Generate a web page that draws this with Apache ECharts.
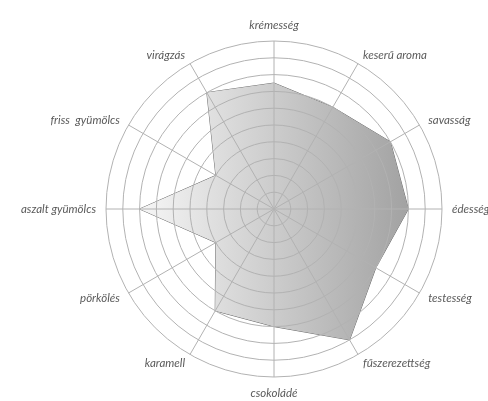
<!DOCTYPE html>
<html>
<head>
<meta charset="utf-8">
<script src="https://cdn.jsdelivr.net/npm/echarts@6/dist/echarts.min.js"></script>
<style>
html,body{margin:0;padding:0;background:#fff;}
#c{width:488px;height:401px;}
</style>
</head>
<body>
<div id="c"></div>
<script>
// Clockwise from the top
const categories = ['krémesség','keserű aroma','savasság','édesség','testesség','fűszerezettség','csokoládé','karamell','pörkölés','aszalt gyümölcs','friss  gyümölcs','virágzás'];
const values = [7.5, 7, 8, 8, 7, 9, 7, 7, 4, 8, 4, 8];
const maxValue = 10;
const ringCount = 10;

// ECharts radar runs counter-clockwise; reorder so it reads clockwise
const order = [0].concat(categories.map((_, i) => i).slice(1).reverse());
const indCats = order.map(i => categories[i]);
const indVals = order.map(i => values[i]);

const CX = 274, CY = 209, R = 168;
const gridColor = '#b2b2b2';

const chart = echarts.init(document.getElementById('c'));
chart.setOption({
  animation: false,
  polar: { center: [CX, CY], radius: R },
  angleAxis: {
    type: 'value', min: 0, max: categories.length, interval: 1,
    startAngle: 90, z: 10,
    axisLine: { show: false }, axisTick: { show: false }, axisLabel: { show: false },
    splitLine: { show: true, lineStyle: { color: gridColor, width: 1 } }
  },
  radiusAxis: {
    type: 'value', min: 0, max: maxValue, interval: maxValue / ringCount, z: 10,
    axisLine: { show: false }, axisTick: { show: false }, axisLabel: { show: false },
    splitLine: { show: true, lineStyle: { color: gridColor, width: 1 } }
  },
  radar: {
    center: [CX, CY],
    radius: R,
    startAngle: 90,
    splitNumber: ringCount,
    shape: 'circle',
    indicator: indCats.map(n => ({ name: n, max: maxValue, min: 0 })),
    axisName: {
      color: '#5a5a5a',
      fontFamily: 'Lato, Roboto, sans-serif',
      fontStyle: 'italic',
      fontSize: 11.5
    },
    nameGap: 10,
    splitLine: { show: false },
    axisLine: { show: false },
    splitArea: { show: false }
  },
  series: [{
    type: 'radar',
    symbol: 'none',
    data: [{
      value: indVals,
      lineStyle: { color: '#6e6e6e', width: 1 },
      areaStyle: {
        opacity: 1,
        color: new echarts.graphic.LinearGradient(0, 0, 1, 0, [
          { offset: 0, color: '#f6f6f6' },
          { offset: 1, color: '#a2a2a2' }
        ])
      }
    }]
  }]
});
</script>
</body>
</html>
